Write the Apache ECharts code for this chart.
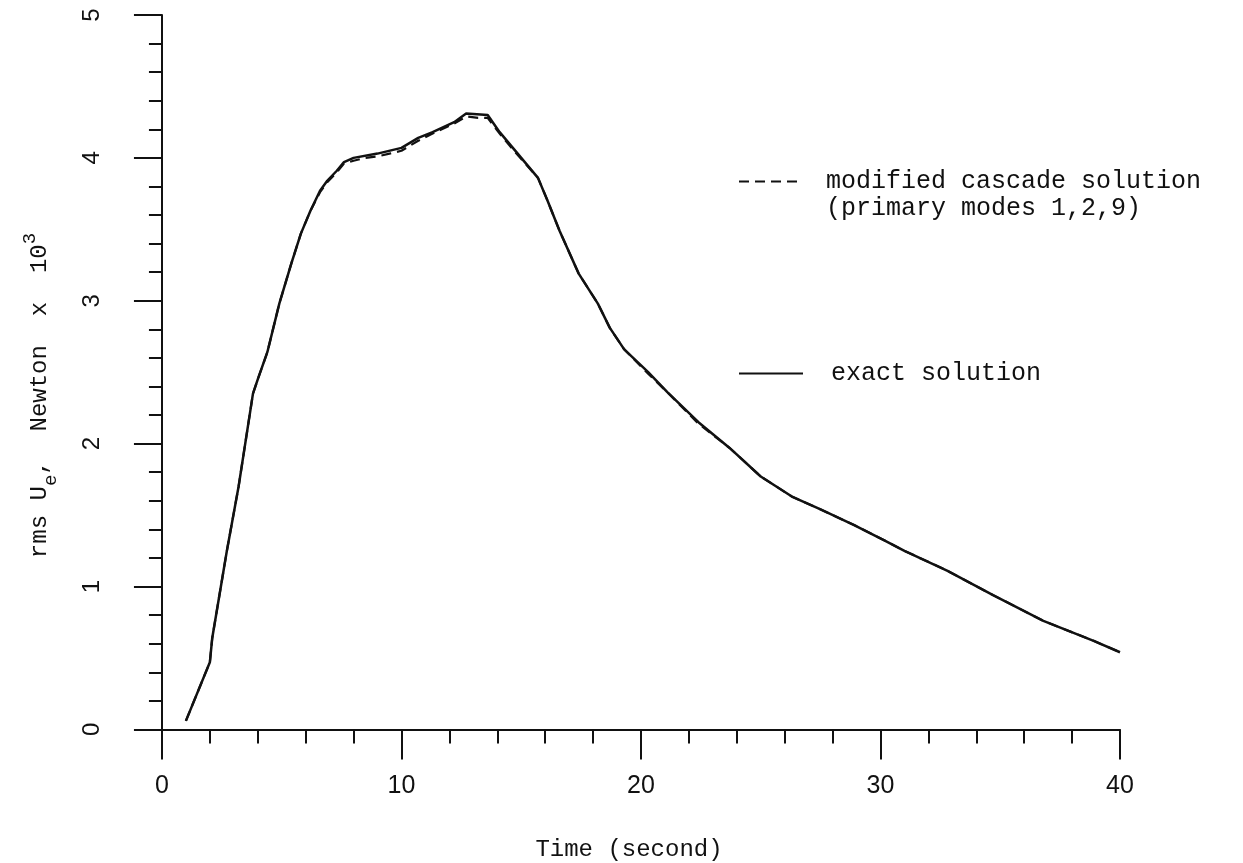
<!DOCTYPE html>
<html><head><meta charset="utf-8">
<script src="https://cdn.jsdelivr.net/npm/echarts@6/dist/echarts.min.js"></script>
<style>html,body{margin:0;padding:0;background:#fff}#c{width:1243px;height:863px}</style>
</head><body><div id="c"></div>
<script>
const timeExact = [1.0, 2.0, 2.1, 2.7, 3.2, 3.8, 4.0, 4.4, 4.9, 5.4, 5.8, 6.2, 6.6, 6.9, 7.3, 7.6, 8.0, 9.0, 10.0, 10.7, 11.3, 12.2, 12.7, 13.6, 14.1, 14.8, 15.7, 16.1, 16.6, 17.4, 18.2, 18.7, 19.3, 20.3, 21.1, 22.4, 23.7, 25.0, 26.3, 27.5, 28.9, 30.2, 31.0, 32.8, 34.7, 36.8, 38.9, 40.0];
const valExact  = [0.06, 0.47, 0.64, 1.24, 1.70, 2.35, 2.45, 2.64, 2.98, 3.26, 3.47, 3.63, 3.77, 3.84, 3.91, 3.97, 4.00, 4.03, 4.07, 4.14, 4.18, 4.25, 4.31, 4.30, 4.18, 4.04, 3.86, 3.70, 3.49, 3.19, 2.98, 2.81, 2.66, 2.50, 2.36, 2.15, 1.97, 1.77, 1.63, 1.54, 1.43, 1.32, 1.25, 1.11, 0.94, 0.76, 0.62, 0.54];
const timeCascade = [1.0, 2.0, 2.1, 2.7, 3.2, 3.8, 4.0, 4.4, 4.9, 5.4, 5.8, 6.2, 6.6, 6.9, 7.3, 7.6, 8.0, 8.5, 9.0, 9.5, 10.0, 10.7, 11.3, 12.2, 12.7, 13.2, 13.6, 14.1, 14.8, 15.7, 16.1, 16.6, 17.4, 18.2, 18.7, 19.3, 20.3, 21.1, 22.4, 23.7, 25.0, 26.3, 27.5, 28.9, 30.2, 31.0, 32.8, 34.7, 36.8, 38.9, 40.0];
const valCascade  = [0.06, 0.47, 0.64, 1.24, 1.70, 2.35, 2.45, 2.64, 2.98, 3.26, 3.47, 3.63, 3.76, 3.83, 3.90, 3.96, 3.98, 4.00, 4.01, 4.03, 4.05, 4.12, 4.17, 4.24, 4.29, 4.28, 4.28, 4.17, 4.03, 3.86, 3.70, 3.49, 3.19, 2.98, 2.81, 2.66, 2.49, 2.36, 2.14, 1.97, 1.77, 1.63, 1.54, 1.43, 1.32, 1.25, 1.11, 0.94, 0.76, 0.62, 0.54];
const xMajorTicks = [0, 10, 20, 30, 40];
const xMinorTicks = [2, 4, 6, 8, 12, 14, 16, 18, 22, 24, 26, 28, 32, 34, 36, 38];
const yMajorTicks = [0, 1, 2, 3, 4, 5];
const yMinorTicks = [0.2, 0.4, 0.6, 0.8, 1.2, 1.4, 1.6, 1.8, 2.2, 2.4, 2.6, 2.8, 3.2, 3.4, 3.6, 3.8, 4.2, 4.4, 4.6, 4.8];
const seriesNames = ['modified cascade solution', 'exact solution'];
const legendSecondLine = '(primary modes 1,2,9)';
const xName = 'Time (second)';

const ink = '#111';
const mono = 'Liberation Mono';
const pairs = (t, v) => t.map((x, i) => [x, v[i]]);

const chart = echarts.init(document.getElementById('c'), null, {renderer: 'canvas'});
const xBase = {type: 'value', gridIndex: 0, min: -1, max: 40, interval: 1, position: 'bottom', splitLine: {show: false}};
const yBase = {type: 'value', gridIndex: 0, min: -0.2, max: 5, interval: 0.2, position: 'left', splitLine: {show: false}};
chart.setOption({
  animation: false,
  backgroundColor: '#fff',
  grid: {left: 138, right: 123, top: 15, bottom: 105, containLabel: false, outerBoundsMode: 'none'},
  xAxis: [
    Object.assign({}, xBase, {
      axisLine: {onZero: true, lineStyle: {color: ink, width: 2}},
      axisTick: {customValues: xMajorTicks, length: 30, lineStyle: {color: ink, width: 2}},
      axisLabel: {customValues: xMajorTicks, margin: 16, color: ink, fontFamily: 'Liberation Sans', fontSize: 25},
      name: xName, nameLocation: 'middle', nameGap: 80, nameMoveOverlap: false,
      nameTextStyle: {color: ink, fontFamily: mono, fontSize: 24}
    }),
    Object.assign({}, xBase, {
      axisLine: {show: false, onZero: true},
      axisTick: {customValues: xMinorTicks, length: 14, lineStyle: {color: ink, width: 2}},
      axisLabel: {show: false}
    })
  ],
  yAxis: [
    Object.assign({}, yBase, {
      axisLine: {onZero: true, lineStyle: {color: ink, width: 2}},
      axisTick: {customValues: yMajorTicks, length: 28, lineStyle: {color: ink, width: 2}},
      axisLabel: {customValues: yMajorTicks, rotate: 90, margin: 34, color: ink, fontFamily: 'Liberation Sans', fontSize: 24},
      name: '{t|rms U}{s|e}{t|,  Newton  x  10}{p|3}{q| }',
      nameLocation: 'middle', nameRotate: 90, nameGap: 78, nameMoveOverlap: false,
      nameTextStyle: {
        color: ink,
        rich: {
          t: {fontFamily: mono, fontSize: 24, lineHeight: 40, verticalAlign: 'middle', color: ink},
          s: {fontFamily: mono, fontSize: 19, lineHeight: 18, verticalAlign: 'bottom', color: ink},
          p: {fontFamily: mono, fontSize: 19, lineHeight: 18, verticalAlign: 'top', color: ink},
          q: {fontFamily: mono, fontSize: 30, lineHeight: 18, verticalAlign: 'middle', color: ink}
        }
      }
    }),
    Object.assign({}, yBase, {
      axisLine: {show: false, onZero: true},
      axisTick: {customValues: yMinorTicks, length: 13, lineStyle: {color: ink, width: 2}},
      axisLabel: {show: false}
    })
  ],
  legend: [
    {data: [seriesNames[0]], left: 733, top: 164, itemWidth: 62, itemHeight: 14, selectedMode: false,
     itemStyle: {color: 'rgba(0,0,0,0)', borderWidth: 0},
     textStyle: {fontFamily: mono, fontSize: 25, color: ink, padding: [0, 0, 0, 20]}},
    {data: [seriesNames[1]], left: 733, top: 356, itemWidth: 64, itemHeight: 14, selectedMode: false,
     itemStyle: {color: 'rgba(0,0,0,0)', borderWidth: 0},
     textStyle: {fontFamily: mono, fontSize: 25, color: ink, padding: [0, 0, 0, 23]}}
  ],
  graphic: [
    {type: 'text', x: 826, y: 208, silent: true,
     style: {text: legendSecondLine, font: '25px "Liberation Mono"', fill: ink, verticalAlign: 'middle', align: 'left'}}
  ],
  series: [
    {name: seriesNames[1], type: 'line', xAxisIndex: 0, yAxisIndex: 0, data: pairs(timeExact, valExact),
     symbol: 'none', lineStyle: {color: ink, width: 2.5, type: 'solid'}, itemStyle: {color: ink}, z: 3},
    {name: seriesNames[0], type: 'line', xAxisIndex: 0, yAxisIndex: 0, data: pairs(timeCascade, valCascade),
     symbol: 'none', lineStyle: {color: ink, width: 2.2, type: [10, 6]}, itemStyle: {color: ink}, z: 4}
  ]
});
</script>
</body></html>
